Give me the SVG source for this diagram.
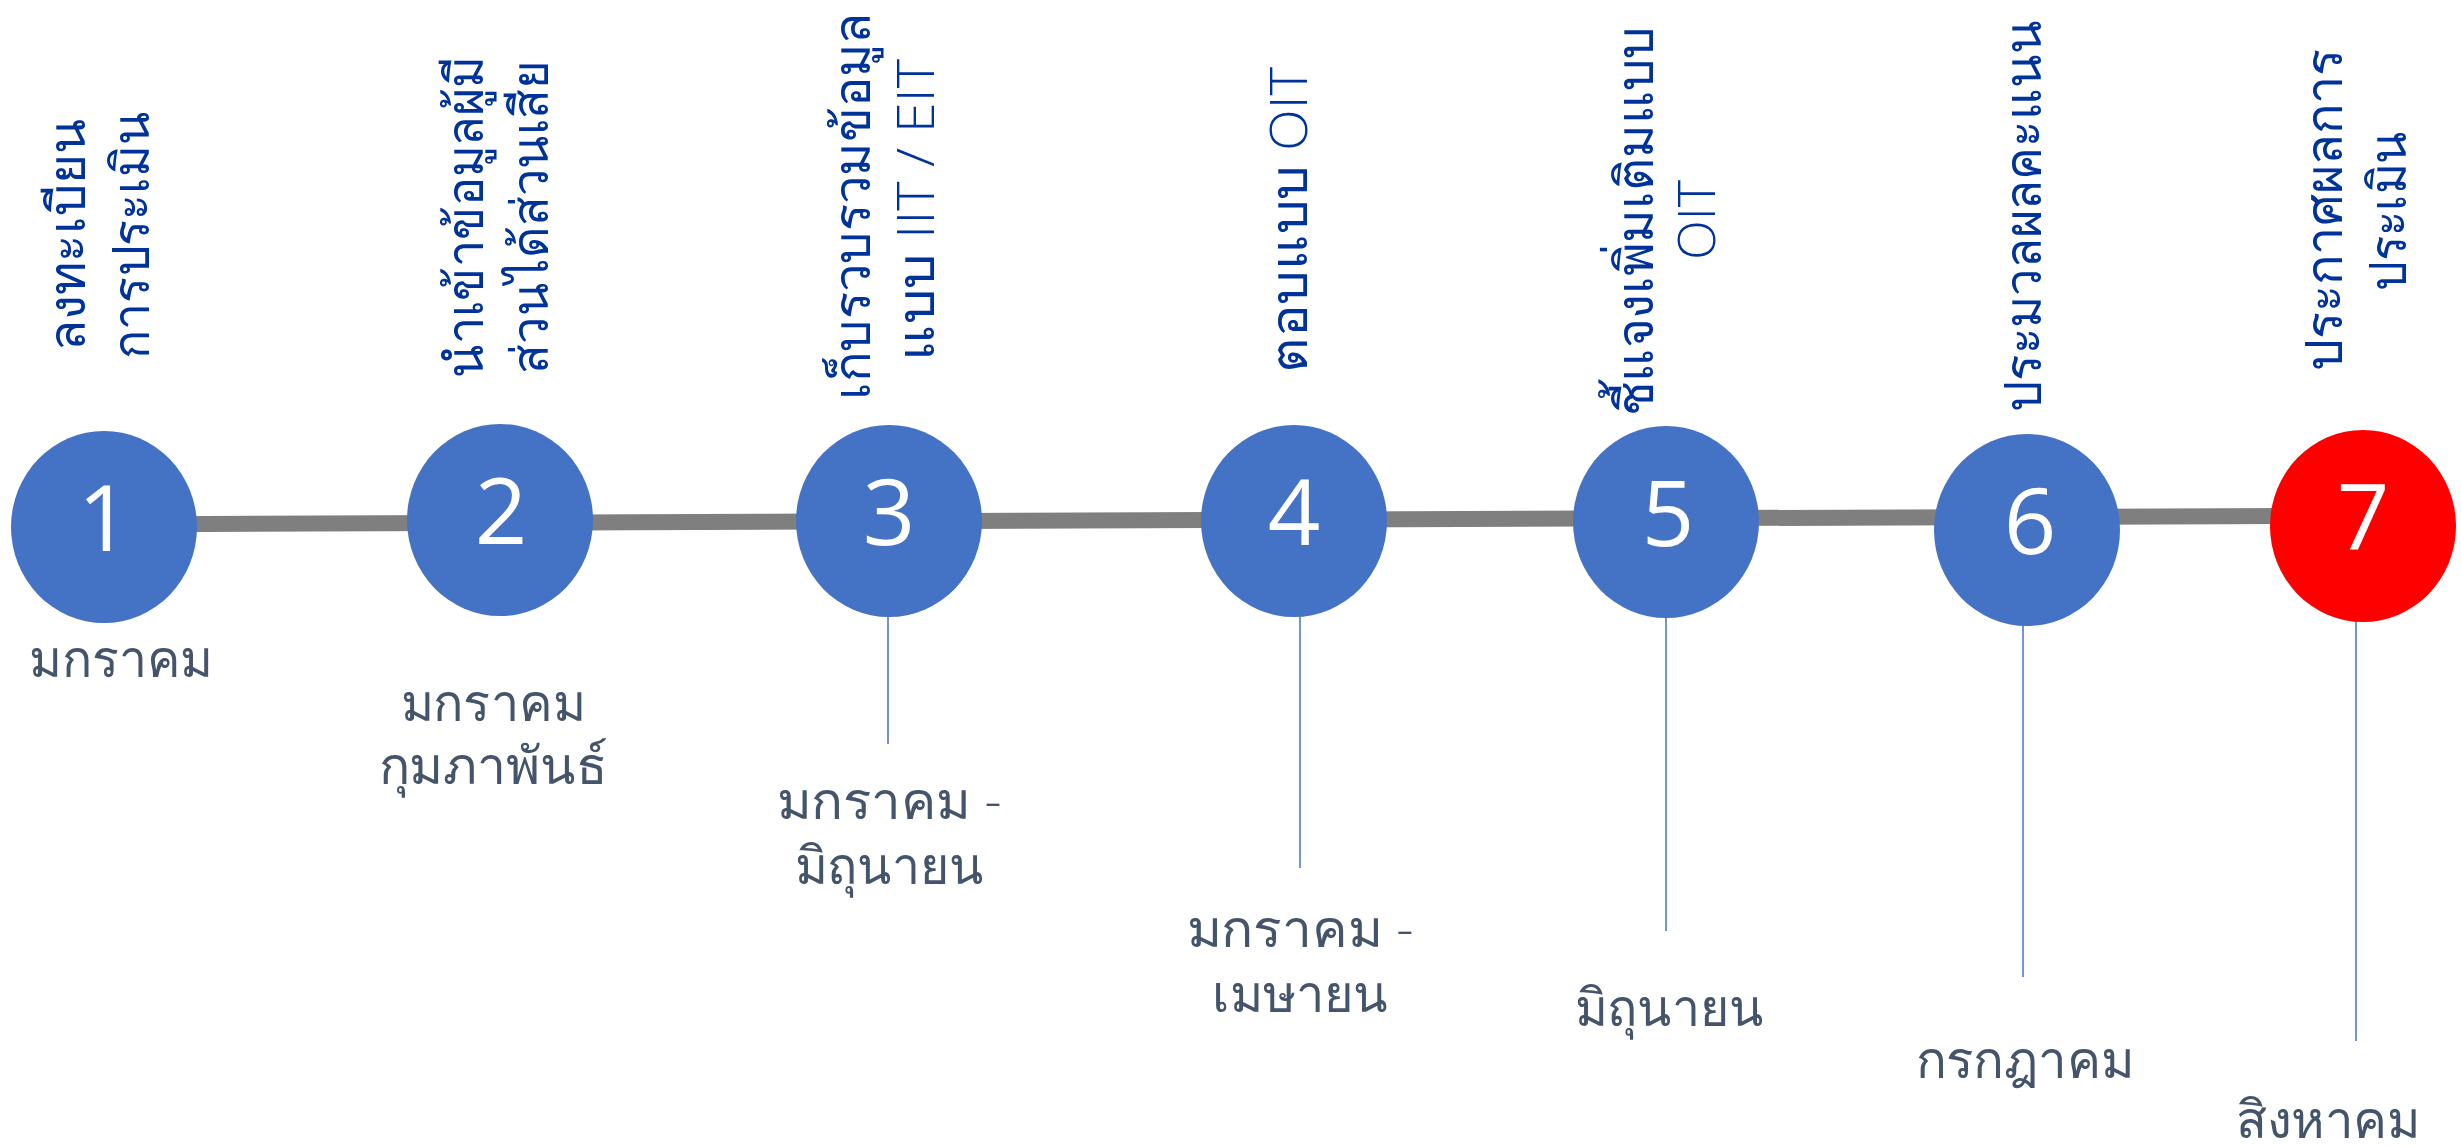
<svg xmlns="http://www.w3.org/2000/svg" width="2461" height="1146" viewBox="0 0 2461 1146">
<style>
.step{fill:#4472C4}
.last{fill:#FF0000}
.num{font-family:"Open Sans","Noto Sans",sans-serif;font-size:92px;fill:#FFFFFF;text-anchor:middle}
.title{font-family:"Open Sans","Noto Sans",sans-serif;font-size:52px;font-weight:300;fill:#003399;text-anchor:middle}
.date{font-family:"Open Sans","Noto Sans",sans-serif;font-size:52px;font-weight:300;fill:#44546A;text-anchor:middle}
.tick{stroke:#4472C4;stroke-width:1.5;fill:none}
</style>
<rect width="2461" height="1146" fill="#FFFFFF"/>
<g id="connectors">
<line x1="104" y1="524.4" x2="2363" y2="515.6" stroke="#7F7F7F" stroke-width="16"/>
<line class="tick" x1="888" y1="610" x2="888" y2="744"/>
<line class="tick" x1="1300" y1="610" x2="1300" y2="868"/>
<line class="tick" x1="1666" y1="610" x2="1666" y2="931"/>
<line class="tick" x1="2023" y1="620" x2="2023" y2="977"/>
<line class="tick" x1="2356" y1="615" x2="2356" y2="1041"/>
</g>
<g id="step1">
<ellipse class="step" cx="104" cy="527" rx="93" ry="96"/>
<text class="num" x="104" y="551">1</text>
<text class="title" transform="translate(85,235) rotate(-90)" textLength="232" lengthAdjust="spacingAndGlyphs">ลงทะเบียน</text>
<text class="title" transform="translate(149,235) rotate(-90)" textLength="247" lengthAdjust="spacingAndGlyphs">การประเมิน</text>
<text class="date" x="121" y="677" textLength="184" lengthAdjust="spacingAndGlyphs">มกราคม</text>
</g>
<g id="step2">
<ellipse class="step" cx="500" cy="520" rx="93" ry="96"/>
<text class="num" x="501" y="544">2</text>
<text class="title" transform="translate(483,217) rotate(-90)" textLength="322" lengthAdjust="spacingAndGlyphs">นำเข้าข้อมูลผู้มี</text>
<text class="title" transform="translate(548,217) rotate(-90)" textLength="313" lengthAdjust="spacingAndGlyphs">ส่วนได้ส่วนเสีย</text>
<text class="date" x="493" y="721" textLength="185" lengthAdjust="spacingAndGlyphs">มกราคม</text>
<text class="date" x="493" y="784" textLength="229" lengthAdjust="spacingAndGlyphs">กุมภาพันธ์</text>
</g>
<g id="step3">
<ellipse class="step" cx="889" cy="521" rx="93" ry="96"/>
<text class="num" x="889" y="545">3</text>
<text class="title" transform="translate(870,206) rotate(-90)" textLength="387" lengthAdjust="spacingAndGlyphs">เก็บรวบรวมข้อมูล</text>
<text class="title" transform="translate(934,210) rotate(-90)" textLength="302" lengthAdjust="spacingAndGlyphs">แบบ IIT / EIT</text>
<text class="date" x="889" y="819" textLength="225" lengthAdjust="spacingAndGlyphs">มกราคม -</text>
<text class="date" x="889" y="884" textLength="189" lengthAdjust="spacingAndGlyphs">มิถุนายน</text>
</g>
<g id="step4">
<ellipse class="step" cx="1294" cy="521" rx="93" ry="96"/>
<text class="num" x="1294" y="545">4</text>
<text class="title" transform="translate(1307,220) rotate(-90)" textLength="306" lengthAdjust="spacingAndGlyphs">ตอบแบบ OIT</text>
<text class="date" x="1300" y="947" textLength="227" lengthAdjust="spacingAndGlyphs">มกราคม -</text>
<text class="date" x="1300" y="1012" textLength="176" lengthAdjust="spacingAndGlyphs">เมษายน</text>
</g>
<g id="step5">
<ellipse class="step" cx="1666" cy="522" rx="93" ry="96"/>
<text class="num" x="1668" y="546">5</text>
<text class="title" transform="translate(1653,221) rotate(-90)" textLength="390" lengthAdjust="spacingAndGlyphs">ชี้แจงเพิ่มเติมแบบ</text>
<text class="title" transform="translate(1715,220) rotate(-90)">OIT</text>
<text class="date" x="1669" y="1026" textLength="189" lengthAdjust="spacingAndGlyphs">มิถุนายน</text>
</g>
<g id="step6">
<ellipse class="step" cx="2027" cy="530" rx="93" ry="96"/>
<text class="num" x="2030" y="554">6</text>
<text class="title" transform="translate(2041,216) rotate(-90)" textLength="392" lengthAdjust="spacingAndGlyphs">ประมวลผลคะแนน</text>
<text class="date" x="2025" y="1078" textLength="219" lengthAdjust="spacingAndGlyphs">กรกฎาคม</text>
</g>
<g id="step7">
<ellipse class="last" cx="2363" cy="526" rx="93" ry="96"/>
<text class="num" x="2363" y="550">7</text>
<text class="title" transform="translate(2342,210) rotate(-90)" textLength="322" lengthAdjust="spacingAndGlyphs">ประกาศผลการ</text>
<text class="title" transform="translate(2406,211) rotate(-90)" textLength="160" lengthAdjust="spacingAndGlyphs">ประเมิน</text>
<text class="date" x="2328" y="1138" textLength="185" lengthAdjust="spacingAndGlyphs">สิงหาคม</text>
</g>
</svg>
